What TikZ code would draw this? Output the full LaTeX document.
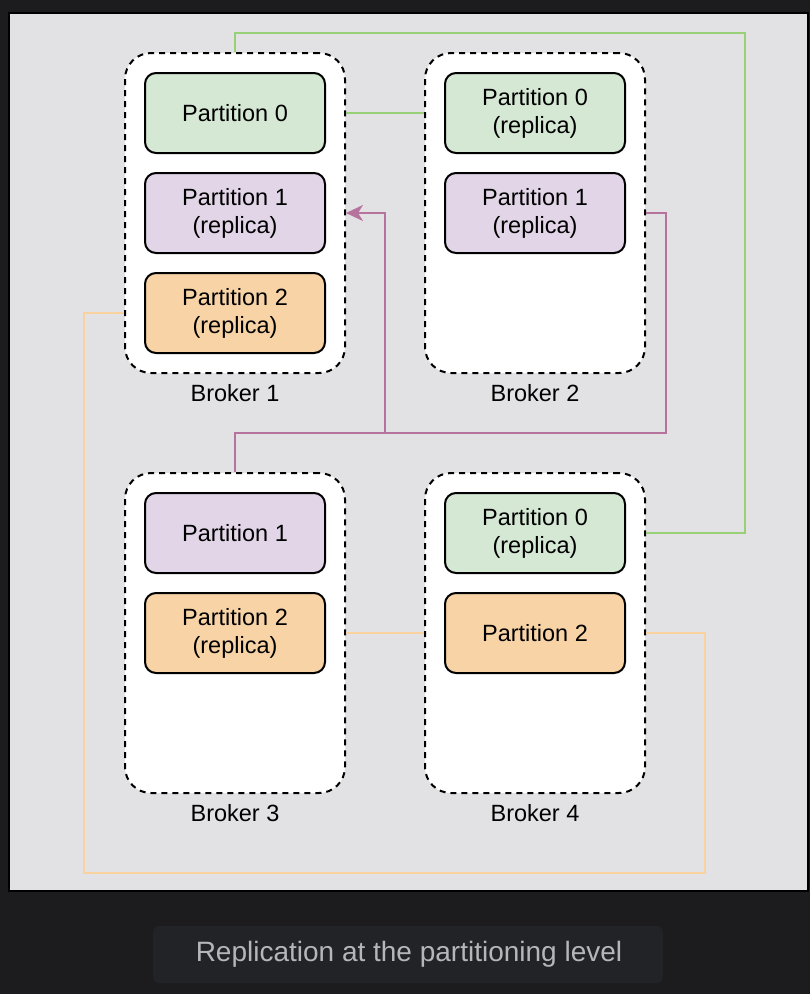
\documentclass[tikz,border=0pt]{standalone}
\usepackage{fontspec}
\setmainfont{Liberation Sans}
\usetikzlibrary{arrows.meta}
\definecolor{pagebg}{HTML}{1C1C1E}
\definecolor{panelbg}{HTML}{E2E2E4}
\definecolor{capbg}{HTML}{222326}
\definecolor{captext}{HTML}{B6B6BA}
\definecolor{greenfill}{HTML}{D5E8D4}
\definecolor{purplefill}{HTML}{E1D5E7}
\definecolor{orangefill}{HTML}{F8D3A6}
\definecolor{greenline}{HTML}{97D077}
\definecolor{purpleline}{HTML}{B5739D}
\definecolor{orangeline}{HTML}{FAD29F}
\begin{document}
\begin{tikzpicture}[x=1pt,y=-1pt,
  broker/.style={draw=black, line width=2pt, dash pattern=on 6pt off 5pt,
    fill=white, rounded corners=26pt, minimum width=220pt,
    minimum height=320pt, inner sep=0pt},
  part/.style={draw=black, line width=2pt, rounded corners=11pt,
    minimum width=180pt, minimum height=80pt, align=center,
    font=\fontsize{23.5}{28}\selectfont, inner sep=0pt},
  green part/.style={part, fill=greenfill},
  purple part/.style={part, fill=purplefill},
  orange part/.style={part, fill=orangefill},
  blabel/.style={font=\fontsize{23.5}{28}\selectfont, inner sep=0pt},
  link/.style={line width=2pt},
  green link/.style={link, draw=greenline},
  purple link/.style={link, draw=purpleline},
  orange link/.style={link, draw=orangeline}]

% page and panel
\useasboundingbox (0,0) rectangle (810,994);
\fill[pagebg] (0,0) rectangle (810,994);
\draw[line width=2pt, fill=panelbg] (9,13) rectangle (808,891);

% brokers
\node[broker] (b1) at (235,213) {};
\node[broker] (b2) at (535,213) {};
\node[broker] (b3) at (235,633) {};
\node[broker] (b4) at (535,633) {};

\node[blabel] (l1) at (235,393) {Broker 1};
\node[blabel] (l2) at (535,393) {Broker 2};
\node[blabel] (l3) at (235,813) {Broker 3};
\node[blabel] (l4) at (535,813) {Broker 4};

% partitions
\node[green part]  (b1p0) at (235,113) {Partition 0};
\node[purple part] (b1p1) at (235,213) {Partition 1\\(replica)};
\node[orange part] (b1p2) at (235,313) {Partition 2\\(replica)};

\node[green part]  (b2p0) at (535,113) {Partition 0\\(replica)};
\node[purple part] (b2p1) at (535,213) {Partition 1\\(replica)};

\node[purple part] (b3p1) at (235,533) {Partition 1};
\node[orange part] (b3p2) at (235,633) {Partition 2\\(replica)};

\node[green part]  (b4p0) at (535,533) {Partition 0\\(replica)};
\node[orange part] (b4p2) at (535,633) {Partition 2};

% replication links: partition 0
\draw[green link] (b1.north) |- (745,33) |- (b4.east |- b4p0.center);
\draw[green link] (b1.east |- b1p0.center) -- (b2.west |- b2p0.center);

% replication links: partition 1
\coordinate (pj) at (385,433);
\draw[purple link, -{Stealth[length=17pt, width=16pt, inset=5pt]}]
  (b2.east |- b2p1.center) -- ++(20,0) |- (pj) |- (b1.east |- b1p1.center);
\draw[purple link] (b3.north) |- (pj);

% replication links: partition 2
\draw[orange link] (b1.west |- b1p2.center) -- ++(-40,0) |- (705,873)
  |- (b4.east |- b4p2.center);
\draw[orange link] (b3.east |- b3p2.center) -- (b4.west |- b4p2.center);

% caption
\fill[capbg, rounded corners=6pt] (153,926) rectangle (663,983);
\node[text=captext, font=\fontsize{28}{32}\selectfont, inner sep=0pt]
  (cap) at (409,954.5) {Replication at the partitioning level};
\end{tikzpicture}
\end{document}
